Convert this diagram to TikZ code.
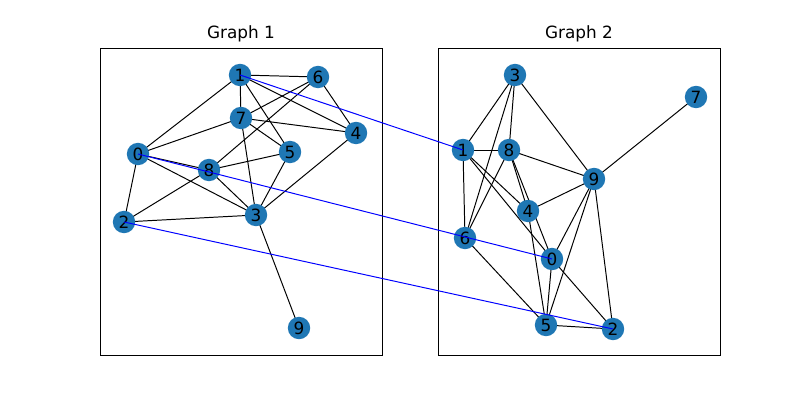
\documentclass[tikz,border=0pt]{standalone}
\usepackage{fontspec}
\setmainfont{DejaVu Sans}
\definecolor{nodeblue}{HTML}{1F77B4}
\tikzset{
  vertex/.style={circle, fill=nodeblue, minimum size=0.56cm, inner sep=0pt, font=\large},
  edge/.style={draw, black, line width=0.7pt},
  match/.style={draw, blue, line width=0.7pt},
  panel/.style={draw, black, line width=0.6pt}
}
\begin{document}
\begin{tikzpicture}[x=0.025cm, y=-0.025cm]
  \useasboundingbox (0,0) rectangle (800,400);
  % panels
  \draw[panel] (100,48) rectangle (382,355);
  \draw[panel] (438,48) rectangle (720,355);
  \node[font=\large] (t1) at (241,34) {Graph 1};
  \node[font=\large] (t2) at (579,34) {Graph 2};

  % Graph 1 nodes
  \foreach \n/\x/\y in {1/240/75, 6/318/77, 7/241/118, 4/356/133, 0/138/154,
      5/290/152, 8/209/170, 2/124/222, 3/256/215, 9/299/328}
    \coordinate (a\n) at (\x,\y);
  % Graph 2 nodes
  \foreach \n/\x/\y in {3/515/75, 7/696/97, 1/463/150, 8/509/150, 9/594/179,
      4/528/211, 6/465/238, 0/552/259, 5/546/325, 2/613/329}
    \coordinate (b\n) at (\x,\y);

  % Graph 1 edges
  \foreach \u/\v in {1/6, 1/7, 1/0, 1/5, 1/4, 6/7, 6/8, 6/4, 7/0, 7/4, 7/5, 7/3,
      0/8, 0/3, 0/2, 8/5, 8/3, 8/2, 2/3, 5/3, 4/3, 3/9}
    \path[edge] (a\u) -- (a\v);
  % Graph 2 edges
  \foreach \u/\v in {3/1, 3/8, 3/6, 3/9, 1/8, 1/6, 1/4, 1/0, 8/9, 8/4, 8/0, 8/6,
      9/7, 9/4, 9/0, 9/5, 9/2, 4/5, 6/5, 0/5, 0/2, 5/2}
    \path[edge] (b\u) -- (b\v);

  % vertices
  \foreach \n in {0,...,9} {
    \node[vertex] (A\n) at (a\n) {\n};
    \node[vertex] (B\n) at (b\n) {\n};
  }

  % matching
  \foreach \n in {1,0,2}
    \path[match] (a\n) -- (b\n);
\end{tikzpicture}
\end{document}
